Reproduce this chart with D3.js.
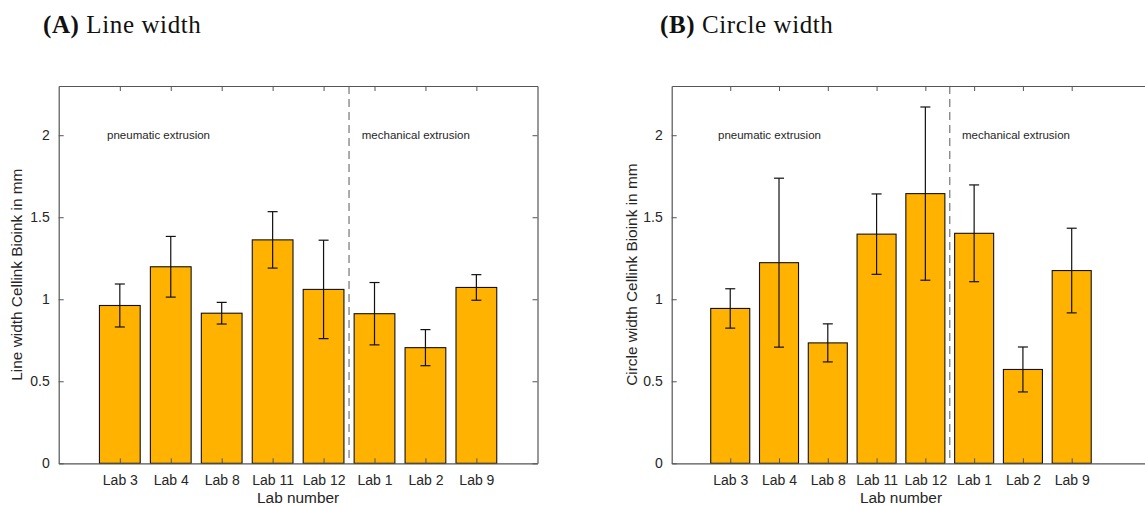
<!DOCTYPE html>
<html>
<head>
<meta charset="utf-8">
<script src="https://cdn.jsdelivr.net/npm/d3@7"></script>
<style>
  body { margin: 0; background: #fff; overflow: hidden; }
  svg { display: block; }
</style>
</head>
<body>
<svg id="chart" width="1145" height="507"></svg>
<script>
// bar data
var labs = ["Lab 3", "Lab 4", "Lab 8", "Lab 11", "Lab 12", "Lab 1", "Lab 2", "Lab 9"];
var lineMean = [0.962, 1.198, 0.915, 1.362, 1.060, 0.912, 0.705, 1.072];
var lineErr = [0.131, 0.185, 0.066, 0.172, 0.300, 0.190, 0.110, 0.078];
var circleMean = [0.944, 1.223, 0.734, 1.397, 1.644, 1.402, 0.572, 1.175];
var circleErr = [0.120, 0.515, 0.116, 0.245, 0.528, 0.295, 0.137, 0.258];
var yTicks = [0, 0.5, 1, 1.5, 2];
var groupLabels = ["pneumatic extrusion", "mechanical extrusion"];
var groupLabelX = [0.75, 5.75];
var dividerX = 5.5;

var svg = d3.select("#chart");
var textColor = "#262626";
var axisColor = "#555";
var barColor = "#ffb300";

function drawPanel(opts) {
    var x = d3.scaleLinear().domain(opts.xDomain).range([opts.left, opts.right]);
    var y = d3.scaleLinear().domain([0, 2.3]).range([463.3, 86]);
    var g = svg.append("g");
    var idx = d3.range(1, labs.length + 1);

    // title
    var title = g.append("text")
        .attr("x", opts.titleX)
        .attr("y", 33)
        .attr("font-family", "'Liberation Serif', 'DejaVu Serif', serif")
        .attr("font-size", 25)
        .attr("letter-spacing", 0.6)
        .attr("fill", "#111");
    title.append("tspan").attr("font-weight", "bold").text(opts.tag);
    title.append("tspan").text(" " + opts.title);

    // bars
    var bw = x(0.8) - x(0);
    g.selectAll("rect.bar")
        .data(opts.mean)
        .enter().append("rect")
        .attr("class", "bar")
        .attr("x", function (d, i) { return x(i + 1) - bw / 2; })
        .attr("y", function (d) { return y(d); })
        .attr("width", bw)
        .attr("height", function (d) { return y(0) - y(d); })
        .attr("fill", barColor)
        .attr("stroke", "#111")
        .attr("stroke-width", 1.1);

    // error bars
    var cap = 5;
    var eb = g.selectAll("g.err")
        .data(opts.mean)
        .enter().append("g")
        .attr("class", "err")
        .attr("stroke", "#111")
        .attr("stroke-width", 1.2);
    eb.append("line")
        .attr("x1", function (d, i) { return x(i + 1); })
        .attr("x2", function (d, i) { return x(i + 1); })
        .attr("y1", function (d, i) { return y(d - opts.err[i]); })
        .attr("y2", function (d, i) { return y(d + opts.err[i]); });
    eb.append("line")
        .attr("x1", function (d, i) { return x(i + 1) - cap; })
        .attr("x2", function (d, i) { return x(i + 1) + cap; })
        .attr("y1", function (d, i) { return y(d + opts.err[i]); })
        .attr("y2", function (d, i) { return y(d + opts.err[i]); });
    eb.append("line")
        .attr("x1", function (d, i) { return x(i + 1) - cap; })
        .attr("x2", function (d, i) { return x(i + 1) + cap; })
        .attr("y1", function (d, i) { return y(d - opts.err[i]); })
        .attr("y2", function (d, i) { return y(d - opts.err[i]); });

    // dashed divider
    g.append("line")
        .attr("x1", x(dividerX)).attr("x2", x(dividerX))
        .attr("y1", y(2.3)).attr("y2", y(0))
        .attr("stroke", "#808080")
        .attr("stroke-width", 1.3)
        .attr("stroke-dasharray", "8,5");

    // group annotations
    g.selectAll("text.grp")
        .data(groupLabels)
        .enter().append("text")
        .attr("class", "grp")
        .attr("x", function (d, i) { return x(groupLabelX[i]); })
        .attr("y", y(2))
        .attr("dy", "0.35em")
        .attr("font-family", "'Liberation Sans', Arial, sans-serif")
        .attr("font-size", 11.5)
        .attr("fill", textColor)
        .text(function (d) { return d; });

    // axes: inward ticks on all four sides
    var tickFmt = function (i) { return labs[i - 1]; };
    var bottom = g.append("g")
        .attr("transform", "translate(0," + y(0) + ")")
        .call(d3.axisBottom(x).tickValues(idx).tickFormat(tickFmt).tickSizeInner(-5).tickSizeOuter(0).tickPadding(12));
    var top = g.append("g")
        .attr("transform", "translate(0," + y(2.3) + ")")
        .call(d3.axisTop(x).tickValues(idx).tickFormat("").tickSizeInner(-5).tickSizeOuter(0));
    var left = g.append("g")
        .attr("transform", "translate(" + opts.left + ",0)")
        .call(d3.axisLeft(y).tickValues(yTicks).tickFormat(d3.format("")).tickSizeInner(-5).tickSizeOuter(0).tickPadding(9));
    var right = g.append("g")
        .attr("transform", "translate(" + opts.right + ",0)")
        .call(d3.axisRight(y).tickValues(yTicks).tickFormat("").tickSizeInner(-5).tickSizeOuter(0));

    [bottom, top, left, right].forEach(function (a) {
        a.selectAll("path.domain").attr("stroke", axisColor).attr("stroke-width", 1.2);
        a.selectAll(".tick line").attr("stroke", axisColor).attr("stroke-width", 1);
        a.selectAll(".tick text")
            .attr("font-family", "'Liberation Sans', Arial, sans-serif")
            .attr("font-size", 14)
            .attr("fill", textColor);
    });

    // axis labels
    g.append("text")
        .attr("x", x(4.5))
        .attr("y", 502.5)
        .attr("text-anchor", "middle")
        .attr("font-family", "'Liberation Sans', Arial, sans-serif")
        .attr("font-size", 15.4)
        .attr("fill", textColor)
        .text("Lab number");

    g.append("text")
        .attr("transform", "translate(" + opts.yLabelX + "," + y(1.15) + ") rotate(-90)")
        .attr("text-anchor", "middle")
        .attr("dy", "0.35em")
        .attr("font-family", "'Liberation Sans', Arial, sans-serif")
        .attr("font-size", 15.4)
        .attr("fill", textColor)
        .text(opts.yLabel);
}

drawPanel({
    tag: "(A)", title: "Line width", titleX: 43,
    left: 58.7, right: 537.5, xDomain: [-0.2, 9.2],
    mean: lineMean, err: lineErr,
    yLabel: "Line width Cellink Bioink in mm", yLabelX: 17
});

drawPanel({
    tag: "(B)", title: "Circle width", titleX: 660,
    left: 671.7, right: 1151.7, xDomain: [-0.2, 9.64],
    mean: circleMean, err: circleErr,
    yLabel: "Circle width Cellink Bioink in mm", yLabelX: 632
});
</script>
</body>
</html>
